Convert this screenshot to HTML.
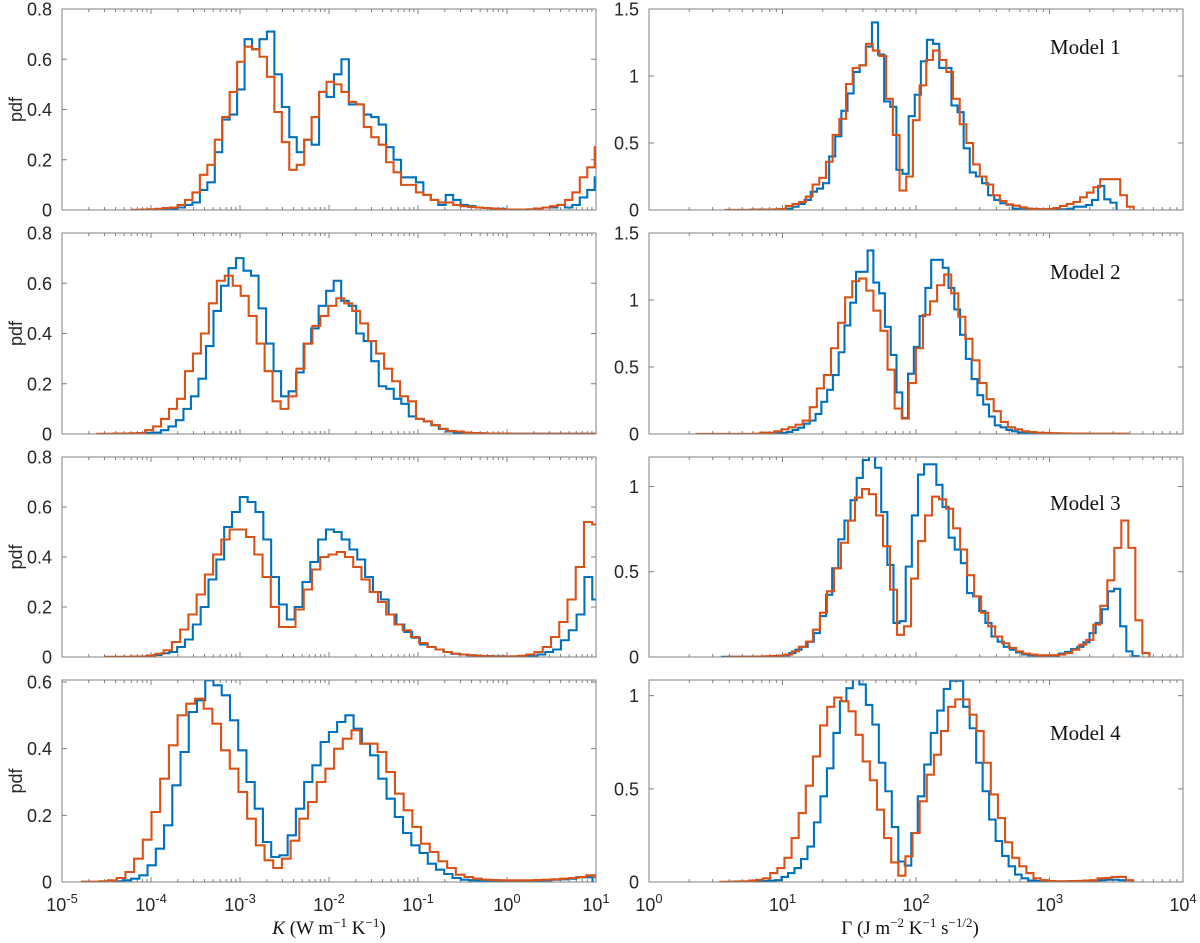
<!DOCTYPE html>
<html><head><meta charset="utf-8"><title>pdf histograms</title>
<style>
html,body{margin:0;padding:0;background:#fff;}
svg{display:block;}
.tl{font-family:"Liberation Sans",Arial,sans-serif;font-size:18px;fill:#262626;}
.sv{font-family:"Liberation Serif","Times New Roman",serif;fill:#111;}
</style></head><body>
<svg id="chart" width="1200" height="943" viewBox="0 0 1200 943" xmlns="http://www.w3.org/2000/svg">
<defs>
<clipPath id="c0"><rect x="62" y="9" width="534" height="201"/></clipPath>
<clipPath id="c1"><rect x="649" y="9" width="534" height="201"/></clipPath>
<clipPath id="c2"><rect x="62" y="233" width="534" height="201"/></clipPath>
<clipPath id="c3"><rect x="649" y="233" width="534" height="201"/></clipPath>
<clipPath id="c4"><rect x="62" y="457" width="534" height="200"/></clipPath>
<clipPath id="c5"><rect x="649" y="457" width="534" height="200"/></clipPath>
<clipPath id="c6"><rect x="62" y="680" width="534" height="202"/></clipPath>
<clipPath id="c7"><rect x="649" y="680" width="534" height="202"/></clipPath>
</defs>
<g id="panels"></g>
<text class="sv" x="329" y="934" font-size="19" text-anchor="middle"><tspan font-style="italic">K</tspan> (W m<tspan font-size="13" dy="-7">−1</tspan><tspan dy="7"> K</tspan><tspan font-size="13" dy="-7">−1</tspan><tspan dy="7">)</tspan></text>
<text class="sv" x="910" y="934" font-size="19" text-anchor="middle">Γ (J m<tspan font-size="13" dy="-7">−2</tspan><tspan dy="7"> K</tspan><tspan font-size="13" dy="-7">−1</tspan><tspan dy="7"> s</tspan><tspan font-size="13" dy="-7">−1/2</tspan><tspan dy="7">)</tspan></text>
</svg>
<script>
// ---- data: bin start exponent (log10), bin width (decades), pdf values ----
const k1BlueStart = -4.204, k1BlueWidth = 0.0837;
const k1Blue = [0,0,0,0,0.001,0.003,0.01,0.02,0.03,0.08,0.11,0.23,0.36,0.38,0.48,0.68,0.64,0.68,0.71,0.54,0.41,0.29,0.23,0.28,0.26,0.47,0.45,0.54,0.60,0.42,0.42,0.38,0.37,0.34,0.25,0.20,0.13,0.13,0.11,0.06,0.04,0.02,0.06,0.04,0.02,0.015,0.01,0.008,0.006,0.005,0.002,0.001,0.001,0.002,0.005,0.01,0.01,0.02,0.01,0.02,0.05,0.08,0.13];
const k1RedStart = -4.204, k1RedWidth = 0.0837;
const k1Red = [0.001,0.002,0.003,0.005,0.008,0.01,0.02,0.04,0.07,0.14,0.18,0.28,0.37,0.47,0.59,0.65,0.64,0.61,0.53,0.39,0.27,0.16,0.18,0.28,0.37,0.47,0.51,0.50,0.47,0.43,0.42,0.33,0.29,0.26,0.19,0.15,0.10,0.10,0.07,0.06,0.04,0.03,0.03,0.02,0.015,0.012,0.01,0.008,0.006,0.004,0.002,0.002,0.002,0.003,0.006,0.01,0.015,0.02,0.04,0.07,0.13,0.17,0.25];
const k2BlueStart = -4.142, k2BlueWidth = 0.0844;
const k2Blue = [0.002,0.004,0.006,0.015,0.03,0.055,0.10,0.15,0.22,0.35,0.49,0.59,0.66,0.70,0.65,0.63,0.50,0.36,0.25,0.15,0.17,0.245,0.36,0.42,0.51,0.57,0.61,0.53,0.51,0.40,0.37,0.29,0.19,0.18,0.14,0.12,0.07,0.06,0.05,0.035,0.02,0.01,0.006,0.005,0.004,0.003,0.002,0.002,0.001,0.001,0.001,0.001,0.001,0.001,0.001,0.001,0.001,0.001,0.001,0.001,0.001];
const k2RedStart = -4.603, k2RedWidth = 0.0895;
const k2Red = [0.001,0.001,0.002,0.002,0.003,0.004,0.015,0.03,0.06,0.10,0.14,0.25,0.32,0.40,0.52,0.61,0.63,0.59,0.55,0.47,0.36,0.25,0.13,0.10,0.15,0.26,0.36,0.43,0.47,0.51,0.54,0.52,0.49,0.44,0.37,0.32,0.26,0.21,0.15,0.13,0.06,0.05,0.035,0.02,0.012,0.01,0.006,0.004,0.003,0.002,0.002,0.002,0.001,0.001,0.001,0.001,0.001,0.001,0.001,0.001,0.001,0.001,0.001,0.001];
const k3BlueStart = -4.058, k3BlueWidth = 0.088;
const k3Blue = [0.003,0.008,0.015,0.02,0.04,0.07,0.13,0.20,0.31,0.39,0.52,0.58,0.64,0.62,0.58,0.47,0.32,0.21,0.15,0.20,0.30,0.38,0.47,0.51,0.50,0.47,0.43,0.39,0.32,0.26,0.23,0.17,0.13,0.10,0.077,0.05,0.04,0.03,0.02,0.013,0.01,0.007,0.005,0.004,0.003,0.003,0.002,0.002,0.002,0.003,0.01,0.02,0.03,0.067,0.107,0.17,0.32,0.23];
const k3RedStart = -4.506, k3RedWidth = 0.0926;
const k3Red = [0.001,0.001,0.001,0.002,0.002,0.006,0.013,0.027,0.06,0.11,0.17,0.25,0.33,0.41,0.47,0.51,0.51,0.48,0.41,0.32,0.20,0.12,0.12,0.19,0.27,0.35,0.40,0.41,0.42,0.40,0.36,0.31,0.26,0.22,0.17,0.13,0.107,0.08,0.056,0.04,0.03,0.02,0.013,0.01,0.007,0.004,0.003,0.002,0.002,0.003,0.005,0.01,0.02,0.04,0.08,0.14,0.23,0.36,0.54,0.53];
const k4BlueStart = -4.409, k4BlueWidth = 0.0926;
const k4Blue = [0.002,0.005,0.01,0.02,0.05,0.10,0.17,0.29,0.39,0.51,0.545,0.605,0.59,0.56,0.485,0.395,0.30,0.22,0.12,0.075,0.08,0.14,0.22,0.30,0.35,0.42,0.45,0.48,0.50,0.46,0.415,0.38,0.31,0.25,0.195,0.147,0.11,0.087,0.055,0.037,0.024,0.012,0.007,0.005,0.004,0.003,0.003,0.003,0.003,0.003,0.004,0.004,0.005,0.007,0.008,0.01,0.014,0.014];
const k4RedStart = -4.776, k4RedWidth = 0.0977;
const k4Red = [0.001,0.001,0.002,0.005,0.012,0.03,0.07,0.127,0.21,0.31,0.41,0.50,0.535,0.55,0.52,0.475,0.395,0.34,0.27,0.19,0.11,0.065,0.042,0.07,0.124,0.19,0.24,0.30,0.34,0.40,0.43,0.455,0.415,0.415,0.39,0.33,0.265,0.215,0.165,0.115,0.09,0.062,0.042,0.022,0.015,0.01,0.007,0.006,0.005,0.005,0.005,0.005,0.006,0.007,0.008,0.01,0.012,0.015,0.02,0.014];
const g1BlueStart = 0.754, g1BlueWidth = 0.0458;
const g1Blue = [0.002,0.002,0.002,0.003,0.004,0.006,0.01,0.025,0.045,0.075,0.137,0.16,0.20,0.40,0.55,0.74,0.87,1.03,1.08,1.22,1.40,1.16,0.81,0.77,0.30,0.27,0.70,0.86,1.11,1.27,1.24,1.06,1.06,0.78,0.73,0.46,0.28,0.25,0.20,0.11,0.075,0.05,0.04,0.01,0.005,0.003,0.002,0.002,0.002,0.002,0.002,0.005,0.01,0.025,0.025,0.037,0.075,0.18,0.08,0.055];
const g1RedStart = 0.574, g1RedWidth = 0.0501;
const g1Red = [0.001,0.001,0.001,0.001,0.002,0.002,0.003,0.004,0.008,0.03,0.045,0.06,0.10,0.19,0.24,0.36,0.56,0.68,0.94,1.06,1.08,1.24,1.19,1.15,0.83,0.56,0.145,0.25,0.67,0.93,1.12,1.19,1.12,1.03,0.83,0.64,0.50,0.34,0.25,0.19,0.11,0.067,0.042,0.032,0.02,0.01,0.008,0.006,0.008,0.015,0.03,0.045,0.06,0.095,0.13,0.17,0.23,0.23,0.23,0.11,0.025];
const g2BlueStart = 0.858, g2BlueWidth = 0.0433;
const g2Blue = [0.002,0.003,0.005,0.008,0.015,0.03,0.047,0.077,0.10,0.15,0.24,0.33,0.44,0.61,0.81,0.98,1.21,1.21,1.37,1.13,1.05,0.80,0.59,0.31,0.12,0.45,0.65,0.88,1.09,1.30,1.30,1.24,1.09,0.93,0.74,0.56,0.41,0.29,0.22,0.13,0.065,0.05,0.03,0.02,0.01,0.006,0.004,0.003,0.002];
const g2RedStart = 0.356, g2RedWidth = 0.053;
const g2Red = [0.001,0.001,0.001,0.001,0.001,0.001,0.001,0.001,0.002,0.01,0.01,0.02,0.035,0.05,0.07,0.10,0.20,0.34,0.44,0.64,0.83,1.02,1.14,1.16,1.07,0.92,0.77,0.48,0.19,0.115,0.38,0.64,0.89,0.99,1.11,1.19,1.05,0.875,0.71,0.55,0.38,0.26,0.17,0.09,0.05,0.035,0.02,0.015,0.01,0.008,0.006,0.005,0.004,0.003,0.003,0.002,0.002,0.002,0.002,0.002,0.002];
const g3BlueStart = 0.546, g3BlueWidth = 0.0459;
const g3Blue = [0.001,0.001,0.001,0.001,0.001,0.002,0.002,0.003,0.004,0.006,0.01,0.023,0.043,0.06,0.09,0.14,0.24,0.365,0.52,0.69,0.80,0.92,1.05,1.155,1.18,1.11,0.85,0.54,0.20,0.21,0.53,0.83,1.07,1.13,1.13,1.01,0.88,0.70,0.63,0.55,0.375,0.355,0.27,0.20,0.12,0.09,0.06,0.043,0.027,0.015,0.01,0.008,0.007,0.007,0.008,0.02,0.03,0.047,0.06,0.086,0.14,0.20,0.28,0.385,0.40,0.18,0.033,0.005];
const g3RedStart = 0.598, g3RedWidth = 0.0525;
const g3Red = [0.001,0.001,0.001,0.002,0.003,0.004,0.006,0.008,0.014,0.033,0.06,0.09,0.16,0.26,0.385,0.52,0.67,0.80,0.935,0.985,0.955,0.83,0.65,0.395,0.13,0.18,0.46,0.68,0.83,0.94,0.925,0.87,0.755,0.63,0.48,0.355,0.26,0.18,0.12,0.08,0.053,0.033,0.02,0.014,0.01,0.01,0.011,0.014,0.023,0.043,0.072,0.10,0.19,0.30,0.45,0.64,0.80,0.64,0.215,0.023];
const g4BlueStart = 0.701, g4BlueWidth = 0.0486;
const g4Blue = [0.001,0.002,0.003,0.005,0.007,0.01,0.027,0.048,0.075,0.123,0.19,0.32,0.46,0.61,0.80,0.97,1.04,1.09,1.06,0.95,0.845,0.64,0.487,0.295,0.11,0.088,0.263,0.46,0.63,0.80,0.92,1.036,1.08,1.08,0.94,0.825,0.64,0.487,0.335,0.22,0.14,0.084,0.04,0.02,0.008,0.005,0.004,0.003,0.003,0.003,0.004,0.004,0.005,0.006,0.008,0.01,0.012,0.012,0.01];
const g4RedStart = 0.535, g4RedWidth = 0.0533;
const g4Red = [0.001,0.002,0.003,0.004,0.008,0.012,0.02,0.048,0.075,0.13,0.236,0.37,0.517,0.674,0.84,0.94,0.99,0.97,0.916,0.79,0.647,0.546,0.388,0.236,0.105,0.034,0.138,0.263,0.433,0.576,0.683,0.81,0.94,0.98,0.98,0.898,0.81,0.64,0.47,0.343,0.213,0.13,0.084,0.048,0.02,0.01,0.005,0.004,0.004,0.005,0.006,0.008,0.01,0.02,0.022,0.027,0.027,0.01];
// tick labels
const kYTicks = [0,0.2,0.4,0.6,0.8];
const kYTickLabels = ["0","0.2","0.4","0.6","0.8"];
const gYTicks = [0,0.5,1,1.5];
const gYTickLabels = ["0","0.5","1","1.5"];
const kXDecades = [-5,-4,-3,-2,-1,0,1];
const gXDecades = [0,1,2,3,4];
const kYMax = [0.8,0.8,0.8,0.606];
const gYMax = [1.5,1.5,1.173,1.084];
const modelLabels = ["Model 1","Model 2","Model 3","Model 4"];

const NS = "http://www.w3.org/2000/svg";
const root = document.getElementById('panels');
const BLUE = "#0072BD", RED = "#D95319", AX = "#808080";
const rows = [{top:9,bot:210},{top:233,bot:434},{top:457,bot:657},{top:680,bot:882}];
const modelBase = [54,279,510,740];

function mk(tag, attrs, parent){
  const e = document.createElementNS(NS, tag);
  for (const k in attrs) e.setAttribute(k, attrs[k]);
  (parent||root).appendChild(e);
  return e;
}

const kSeries = [[k1Blue,k1BlueStart,k1BlueWidth,k1Red,k1RedStart,k1RedWidth],[k2Blue,k2BlueStart,k2BlueWidth,k2Red,k2RedStart,k2RedWidth],[k3Blue,k3BlueStart,k3BlueWidth,k3Red,k3RedStart,k3RedWidth],[k4Blue,k4BlueStart,k4BlueWidth,k4Red,k4RedStart,k4RedWidth]];
const gSeries = [[g1Blue,g1BlueStart,g1BlueWidth,g1Red,g1RedStart,g1RedWidth],[g2Blue,g2BlueStart,g2BlueWidth,g2Red,g2RedStart,g2RedWidth],[g3Blue,g3BlueStart,g3BlueWidth,g3Red,g3RedStart,g3RedWidth],[g4Blue,g4BlueStart,g4BlueWidth,g4Red,g4RedStart,g4RedWidth]];

function drawPanel(r, side){
  const isK = side === 0;
  const x0 = isK ? 62 : 649, x1 = isK ? 596 : 1183;
  const top = rows[r].top, bot = rows[r].bot;
  const decs = isK ? kXDecades : gXDecades;
  const emin = decs[0], emax = decs[decs.length-1];
  const ymax = isK ? kYMax[r] : gYMax[r];
  const xs = e => x0 + (e - emin) / (emax - emin) * (x1 - x0);
  const ys = v => bot - v / ymax * (bot - top);
  const g = mk('g', {});
  
  
  // ticks
  let t = '';
  for (let d = emin; d <= emax; d++){
    const X = xs(d);
    t += `M${X},${bot}v-5M${X},${top}v5`;
    if (d < emax) for (let m = 2; m <= 9; m++){
      const Xm = xs(d + Math.log10(m));
      t += `M${Xm},${bot}v-3M${Xm},${top}v3`;
    }
  }
  const yt = isK ? kYTicks : gYTicks, ytl = isK ? kYTickLabels : gYTickLabels;
  yt.forEach((v,i) => {
    if (v > ymax + 1e-6) return;
    const Y = ys(v);
    t += `M${x0},${Y}h5M${x1},${Y}h-5`;
    const lab = mk('text', {class:'tl', x:x0-10, y:Y+6.5, 'text-anchor':'end'}, g);
    lab.textContent = ytl[i];
    
    
  });
  const tk = mk('path', {d:t, stroke:AX, 'stroke-width':1, fill:'none'}, g);
  
  
  // histograms
  const ser = isK ? kSeries[r] : gSeries[r];
  [[ser[0],ser[1],ser[2],BLUE,'blue'],[ser[3],ser[4],ser[5],RED,'red']].forEach(s => {
    const vals = s[0], e0 = s[1], w = s[2];
    let d = `M${xs(e0).toFixed(2)},${bot}`;
    vals.forEach((v,i) => {
      d += `V${ys(v).toFixed(2)}H${xs(e0 + (i+1)*w).toFixed(2)}`;
    });
    d += `V${bot}`;
    const p = mk('path', {d:d, stroke:s[3], 'stroke-width':2.1, fill:'none', 'clip-path':`url(#c${r*2+side})`, 'stroke-linejoin':'miter'}, g);
    
    
  });
  // box
  const box = mk('rect', {x:x0, y:top, width:x1-x0, height:bot-top, fill:'none', stroke:AX, 'stroke-width':1}, g);
  
  
  if (isK){
    const pl = mk('text', {class:'tl', transform:`translate(22,${(top+bot)/2}) rotate(-90)`, 'text-anchor':'middle'}, g);
    pl.textContent = 'pdf';
    
    
  } else {
    const ml = mk('text', {class:'sv', x:1050, y:modelBase[r], 'font-size':21}, g);
    ml.textContent = modelLabels[r];
    
    
  }
  if (r === 3){
    decs.forEach(d => {
      const xl = mk('text', {class:'tl', x:xs(d), y:911, 'text-anchor':'middle'}, g);
      
      
      const b = document.createElementNS(NS,'tspan'); b.textContent = '10'; xl.appendChild(b);
      const s = document.createElementNS(NS,'tspan'); s.setAttribute('font-size','13'); s.setAttribute('dy','-8');
      s.textContent = d < 0 ? ('-' + (-d)) : String(d); xl.appendChild(s);
    });
  }
}
for (let r = 0; r < 4; r++){ drawPanel(r,0); drawPanel(r,1); }
</script>
</body></html>
